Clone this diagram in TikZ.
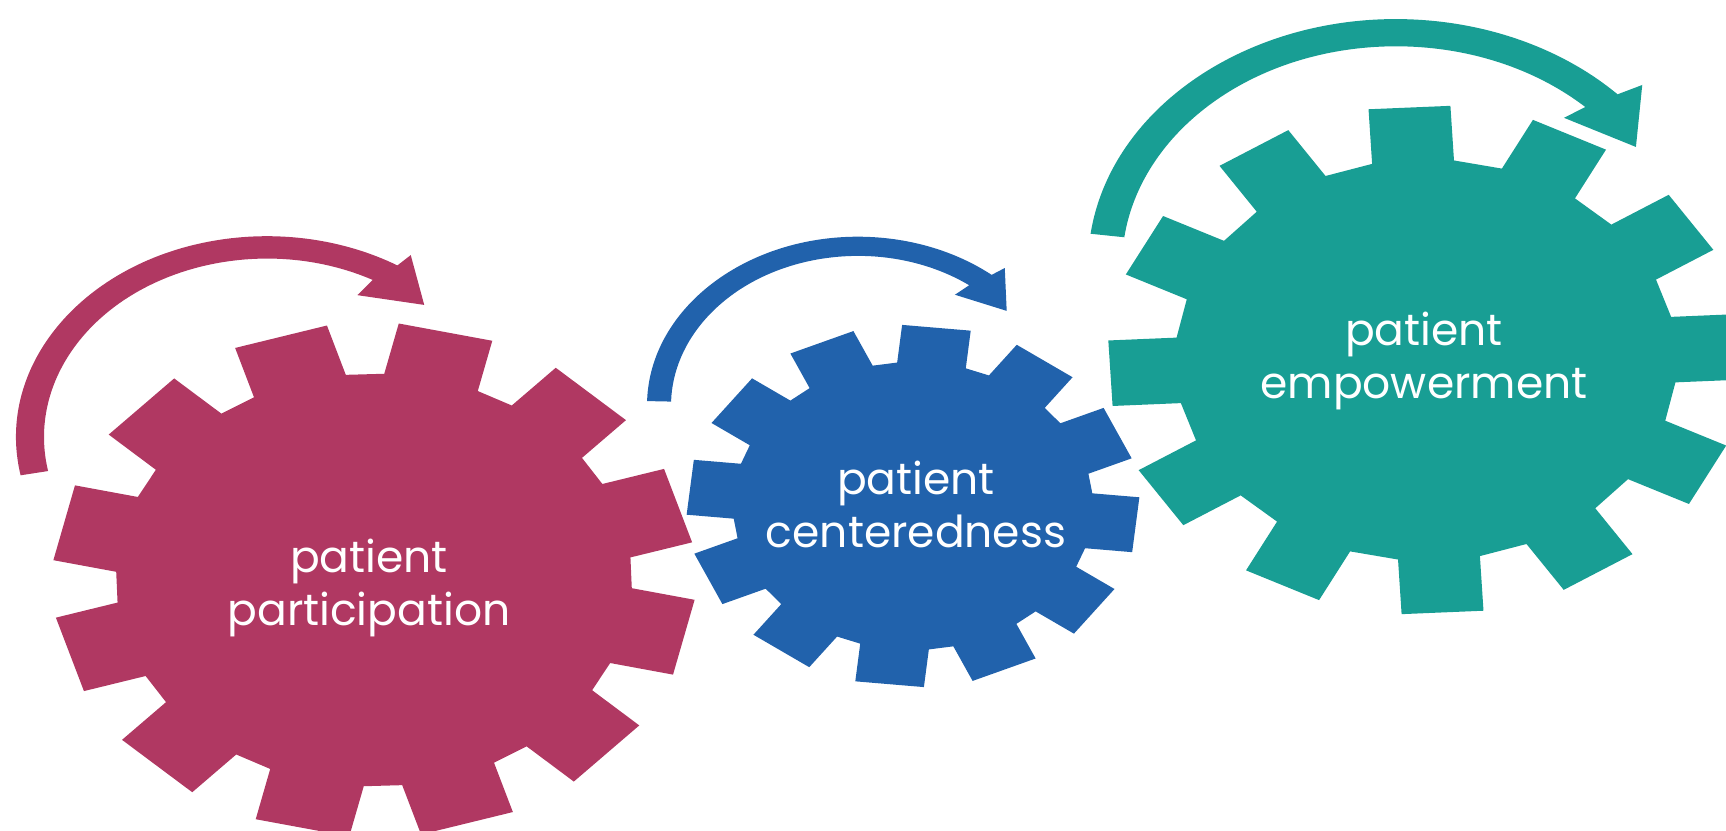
\documentclass[tikz,border=0pt]{standalone}
\usepackage{fontspec}
\newfontfamily\labelfont{Poppins}
\definecolor{gearmag}{HTML}{B03862}
\definecolor{gearblue}{HTML}{2162AC}
\definecolor{gearteal}{HTML}{189E94}
% #1 colour, #2 centre, #3 outer radius, #4 root radius, #5 tooth half width, #6 rotation
\newcommand\mygear[6]{%
  \pgfmathsetmacro\ga{asin(#5/#4)}%
  \pgfmathsetmacro\gb{atan(#5/#3)}%
  \pgfmathsetmacro\gc{#3/cos(\gb)}%
  \begin{scope}[shift={#2}, yscale=0.8]
    \fill[#1] (#6-\ga:#4) \foreach \i in {0,...,11}{
      -- (#6+30*\i-\ga:#4) -- (#6+30*\i-\gb:\gc) -- (#6+30*\i+\gb:\gc) -- (#6+30*\i+\ga:#4)} -- cycle;
  \end{scope}}
\tikzset{gearlabel/.style={text=white, align=center, inner sep=0pt,
  font={\labelfont\fontsize{44}{53}\selectfont}}}
\begin{document}
\begin{tikzpicture}[x=1pt, y=1pt]
\useasboundingbox (0,0) rectangle (1726,830);
% gears
\mygear{gearmag}{(374,250)}{318}{258}{48}{17}
\mygear{gearblue}{(913,324)}{224}{180}{34.5}{24}
\mygear{gearteal}{(1426,470)}{316}{251}{41}{3}
% curved arrows
\begin{scope}[shift={(267,393)}, yscale=0.8]
  \fill[gearmag] (191:251) arc[start angle=191, end angle=58.7, radius=251]
    -- (57.7:269) -- (46.4:228) -- (63:199) -- (61.7:223)
    arc[start angle=61.7, end angle=191, radius=223] -- cycle;
\end{scope}
\begin{scope}[shift={(858,424.5)}, yscale=0.8]
  \fill[gearblue] (178.5:211) arc[start angle=178.5, end angle=50.7, radius=211]
    -- (49.5:226) -- (38.5:190) -- (55:169) -- (53.5:187)
    arc[start angle=53.5, end angle=178.5, radius=187] -- cycle;
\end{scope}
\begin{scope}[shift={(1396,564.5)}, yscale=0.8]
  \fill[gearteal] (172.6:308) arc[start angle=172.6, end angle=44, radius=308]
    -- (42.5:334) -- (31.7:282) -- (47.7:249.6) -- (46.3:274)
    arc[start angle=46.3, end angle=172.6, radius=274] -- cycle;
\end{scope}
% labels
\node[gearlabel] (t1) at (369,242) {patient\\participation};
\node[gearlabel] (t2) at (916,326) {patient\\centeredness};
\node[gearlabel] (t3) at (1424,469) {patient\\empowerment};
\end{tikzpicture}
\end{document}
